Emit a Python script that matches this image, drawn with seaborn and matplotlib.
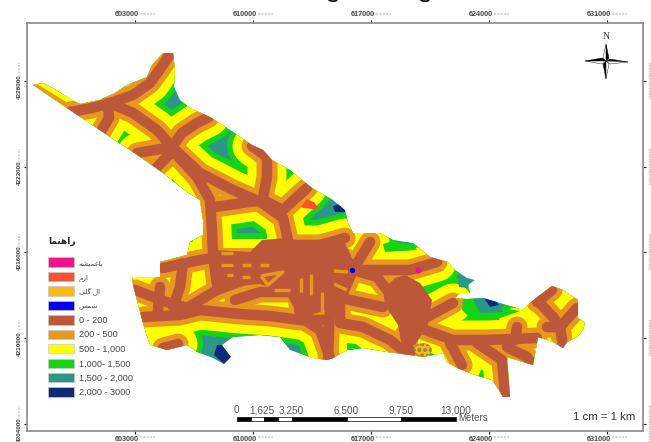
import matplotlib
matplotlib.use("Agg")
import matplotlib.pyplot as plt
import pandas as pd
import seaborn as sns
from matplotlib.patches import Polygon, Ellipse, Patch
from matplotlib.transforms import ScaledTranslation

east_ticks = [134.5, 252.5, 370.7, 488.7, 607]
east_labels = ['603000', '610000', '617000', '624000', '631000']
north_ticks = [81, 167, 252.3, 338, 424]
north_labels = ['4228000', '4222000', '4216000', '4210000', '4204000']

boundary = [(33, 85), (43, 83), (53, 88), (72, 100), (80, 104), (100, 100), (115, 93), (127, 85), (147, 77),
            (152, 65), (163, 53), (173, 53), (175, 70), (174, 87), (180, 100), (190, 108), (210, 117), (233, 132),
            (252, 145), (263, 150), (272, 160), (290, 170), (312, 188), (333, 200), (345, 210), (348, 223),
            (353, 233), (380, 233), (393, 240), (413, 243), (430, 257), (448, 262), (455, 270), (467, 278),
            (475, 280), (468, 285), (470, 293), (460, 293), (455, 298), (467, 299), (483, 298), (500, 303),
            (523, 310), (530, 303), (540, 295), (552, 286), (563, 290), (578, 300), (578, 318), (585, 323),
            (583, 330), (577, 337), (567, 342), (563, 348), (553, 342), (538, 337), (533, 365), (507, 357),
            (510, 397), (503, 397), (500, 392), (492, 380), (475, 375), (457, 368), (447, 362), (443, 353),
            (423, 357), (410, 355), (387, 352), (363, 348), (347, 350), (333, 358), (327, 360), (313, 358),
            (290, 350), (280, 337), (260, 335), (233, 337), (222, 345), (231, 357), (224, 364), (213, 358),
            (197, 352), (187, 345), (167, 350), (150, 345), (146, 333), (143, 323), (133, 285), (132, 277),
            (160, 277), (160, 262), (187, 255), (190, 242), (203, 235), (203, 220), (200, 200), (187, 192),
            (163, 173), (133, 152), (110, 137), (70, 110)]

road_01 = [(70, 112), (92, 108), (107, 104), (133, 95), (150, 83), (163, 65), (170, 54)]
road_02 = [(108, 103), (109, 118), (100, 133)]
road_03 = [(112, 104), (133, 113), (157, 130), (172, 147)]
road_04 = [(172, 147), (182, 133), (197, 123), (209, 117)]
road_05 = [(172, 147), (137, 153)]
road_06 = [(172, 152), (157, 167)]
road_07 = [(172, 150), (197, 177), (210, 200), (212, 230), (213, 255), (217, 285)]
road_08 = [(172, 147), (200, 173), (233, 190), (263, 203)]
road_09 = [(252, 146), (267, 157), (267, 177), (262, 203), (283, 218), (288, 240)]
road_10 = [(215, 207), (263, 200), (283, 210), (307, 188)]
road_11 = [(30, 92), (72, 118)]
road_12 = [(213, 258), (345, 258)]
road_13 = [(235, 300), (260, 292), (295, 292)]
road_14 = [(135, 290), (167, 302), (187, 308), (217, 290), (250, 278), (280, 273), (297, 267)]
road_15 = [(183, 263), (180, 287), (173, 307)]
road_16 = [(160, 287), (158, 310)]
road_17 = [(143, 317), (180, 315), (200, 310), (240, 314), (270, 316), (300, 320), (323, 320)]
road_18 = [(297, 280), (300, 317), (320, 330), (330, 358)]
road_22 = [(307, 290), (307, 318)]
road_25 = [(285, 245), (320, 245), (345, 238)]
road_26 = [(370, 242), (353, 270), (340, 300)]
road_27 = [(320, 247), (353, 270), (377, 277), (387, 290)]
road_28 = [(353, 270), (410, 270), (437, 262)]
road_30 = [(405, 335), (410, 353)]
road_34 = [(427, 317), (453, 303)]
road_35 = [(425, 330), (453, 340), (487, 340), (537, 338)]
road_36 = [(517, 327), (515, 340)]
road_37 = [(450, 343), (462, 365)]
road_38 = [(477, 343), (502, 360), (505, 395)]
road_39 = [(507, 347), (527, 357), (532, 364)]
road_40 = [(328, 358), (330, 307), (320, 285)]
road_41 = [(340, 303), (340, 323), (363, 327), (390, 340), (405, 352)]
road_42 = [(336, 297), (383, 307)]
road_43 = [(537, 300), (553, 317), (560, 327), (577, 308)]
road_44 = [(552, 290), (537, 302)]
road_45 = [(547, 327), (560, 327), (563, 346)]
road_46 = [(163, 268), (200, 260), (213, 258)]
road_47 = [(163, 348), (178, 344)]
all_roads = [road_01, road_02, road_03, road_04, road_05, road_06, road_07, road_08, road_09, road_10,
             road_11, road_12, road_13, road_14, road_15, road_16, road_17, road_18, road_22, road_25, road_26,
             road_27, road_28, road_30, road_34, road_35, road_36, road_37, road_38, road_39, road_40,
             road_41, road_42, road_43, road_44, road_45, road_46, road_47]

# built-up blocks that read as solid 0-200
core_west = [(212, 250), (250, 252), (262, 240), (285, 238), (313, 243), (345, 243), (352, 258), (360, 270),
             (345, 290), (345, 305), (320, 312), (300, 318), (285, 292), (260, 284), (215, 288)]
core_east = [(383, 290), (395, 278), (405, 275), (420, 283), (432, 300), (428, 325), (415, 345), (402, 345),
             (398, 325), (385, 305)]

# small gaps inside the blocks (200 - 500)
gap_01 = [(221, 253), (233, 253)]
gap_02 = [(221, 265), (233, 265)]
gap_03 = [(242, 265), (251, 265)]
gap_04 = [(260, 265), (269, 265)]
gap_05 = [(227, 275), (233, 275)]
gap_06 = [(242, 277), (250, 277)]
gap_07 = [(261, 276), (283, 272), (268, 285), (261, 276)]
gap_08 = [(274, 290), (290, 290)]
gap_09 = [(301, 278), (301, 292)]
gap_10 = [(311, 274), (311, 295)]
gap_11 = [(334, 271), (348, 272)]
gap_12 = [(334, 284), (347, 290)]
gap_13 = [(322, 292), (322, 312)]
all_gaps = [gap_01, gap_02, gap_03, gap_04, gap_05, gap_06, gap_07, gap_08, gap_09, gap_10, gap_11, gap_12, gap_13]

# far-from-road pockets
navy_north = [(333, 206), (340, 204), (346, 212), (335, 212)]
navy_east = [(484, 298), (492, 297), (499, 305), (490, 307)]
navy_south = [(217, 345), (222, 345), (231, 357), (224, 364), (214, 355)]
teal_east = [(458, 276), (470, 279), (468, 288), (459, 287)]
teal_lobe = [(473, 299), (484, 298), (500, 303), (503, 312), (480, 313)]
green_lobe = [(463, 299), (473, 299), (503, 308), (520, 311), (500, 318), (470, 318), (462, 310)]
green_north = [(383, 244), (393, 241), (413, 245), (417, 250), (385, 252)]
green_south = [(347, 343), (356, 344), (362, 349), (347, 350)]

zone_labels = ['2,000 - 3000', '1,500 - 2,000', '1,000- 1,500', '500 - 1,000', '200 - 500', '0 - 200']
zone_colors = ['#0F2A78', '#2E9688', '#14D414', '#FFFF00', '#E8981E', '#BC573A']
zone_widths = [None, None, 50, 39, 21, 10.5]  # buffer width on the sheet, px

place_labels = ['\ufeea\ufeb8\ufef4\ufee4\ufecf\ufe8e\ufe91', '\ufee1\ufead\ufe8d',
                '\ufef0\ufee0\ufb94 \ufedd\ufe8d', '\ufeb2\ufee4\ufeb7']
place_colors = ['#F0148C', '#FA5030', '#FBB916', '#0000F0']

scale_edges = [236.5, 250.5, 264, 278, 291.5, 346.5, 401, 456]
scale_labels = ['0', '1,625', '3,250', '6,500', '9,750', '13,000']
scale_label_x = [236, 262, 291, 346, 401, 456]

road_rows = [(i, x, y) for i, road in enumerate(all_roads) for x, y in road]
road_df = pd.DataFrame(road_rows, columns=['road', 'x', 'y'])
gap_rows = [(i, x, y) for i, gap in enumerate(all_gaps) for x, y in gap]
gap_df = pd.DataFrame(gap_rows, columns=['gap', 'x', 'y'])

sns.set_theme(style='white')
plt.rcParams['font.family'] = ['Liberation Sans', 'DejaVu Sans']

fig = plt.figure(figsize=(6.51, 4.42), dpi=100)
ax = fig.add_axes([27 / 651, 11 / 442, 616 / 651, 408 / 442])
ax.set_xlim(27, 643)
ax.set_ylim(431, 23)

outline = Polygon(boundary, closed=True, facecolor=zone_colors[1], edgecolor='none', transform=ax.transData)
ax.add_patch(outline)

for color, width in zip(zone_colors[2:], zone_widths[2:]):
    n_before = len(ax.lines)
    sns.lineplot(data=road_df, x='x', y='y', units='road', estimator=None, sort=False, color=color,
                 linewidth=width * 0.72, solid_capstyle='round', solid_joinstyle='round', legend=False, ax=ax)
    for line in ax.lines[n_before:]:
        line.set_clip_path(outline)

for block, color in [(green_lobe, zone_colors[2]), (green_north, zone_colors[2]), (green_south, zone_colors[2]),
                     (teal_lobe, zone_colors[1]), (teal_east, zone_colors[1]), (navy_east, zone_colors[0]),
                     (navy_north, zone_colors[0]), (navy_south, zone_colors[0]),
                     (core_west, zone_colors[-1]), (core_east, zone_colors[-1])]:
    pocket = Polygon(block, closed=True, facecolor=color, edgecolor='none', zorder=2.5)
    ax.add_patch(pocket)
    pocket.set_clip_path(outline)
sns.lineplot(data=gap_df, x='x', y='y', units='gap', estimator=None, sort=False, color=zone_colors[-2],
             linewidth=2.4, solid_capstyle='butt', legend=False, zorder=2.6, ax=ax)

# named places
ax.add_patch(Polygon([(302, 207), (307, 200), (314, 203), (318, 209)], closed=True, color=place_colors[1], zorder=3))
ax.scatter([352], [270], s=8, color=place_colors[3], zorder=5)
ax.scatter([418], [270], s=12, color=place_colors[0], zorder=5)
ax.add_patch(Ellipse((423, 350), 17, 13, facecolor=place_colors[2], edgecolor='#9A8A40', hatch='ooo', lw=0.4, zorder=5))

ax.set_xlabel('')
ax.set_ylabel('')
for side in ax.spines.values():
    side.set_color('#8A8A8A')
    side.set_linewidth(1.2)

ax.set_xticks(east_ticks)
ax.set_xticklabels(east_labels, fontsize=5.2, fontweight='bold', color='#444444')
ax.set_yticks(north_ticks)
ax.set_yticklabels(north_labels, fontsize=4.6, fontweight='bold', color='#444444', rotation=90, va='center')
ax.tick_params(axis='both', length=2.5, width=0.8, color='#222222', pad=1, left=True, bottom=True, top=True, right=True)
ax.tick_params(axis='x', labeltop=True, labelbottom=True)
for lab in ax.get_xticklabels():
    lab.set_transform(lab.get_transform() + ScaledTranslation(-0.08, 0, fig.dpi_scale_trans))
for lab in ax.get_yticklabels():
    lab.set_transform(lab.get_transform() + ScaledTranslation(0, -0.055, fig.dpi_scale_trans))

# faint trailing part of the grid labels
for x in east_ticks:
    for y in [14.5, 437]:
        ax.plot([x + 5, x + 20], [y, y], color='#D8D8D8', lw=1.6, ls=(0, (1, 0.5)), clip_on=False)
for y in north_ticks:
    ax.plot([19, 19], [y - 4, y - 18], color='#D8D8D8', lw=1.6, ls=(0, (1, 0.5)), clip_on=False)
    ax.plot([650, 650], [y - 18, y + 18], color='#BBBBBB', lw=1.2, ls=(0, (1, 0.5)), clip_on=False)

# legend
handles = [Patch(facecolor=c, edgecolor='#C8C8C8', lw=0.5) for c in place_colors]
handles += [Patch(facecolor=c, edgecolor='#C8C8C8', lw=0.5) for c in zone_colors[::-1]]
labels = place_labels + zone_labels[::-1]
leg = ax.legend(handles, labels, loc='upper left', bbox_to_anchor=(48, 237), bbox_transform=ax.transData,
                frameon=False, fontsize=6.6, title='\ufe8e\ufee4\ufee8\ufeeb\ufe8d\ufead', borderpad=0, borderaxespad=0,
                handlelength=2.8, handleheight=1.2, labelspacing=0.51, handletextpad=0.55, alignment='left',
                labelcolor='#444444')
leg.get_title().set_fontsize(6.5)
leg.get_title().set_fontweight('bold')
leg.get_title().set_color('#222222')
leg._legend_box.sep = 8
for txt in leg.get_texts()[:4]:
    txt.set_fontsize(5.2)

# scale bar
for i in range(len(scale_edges) - 1):
    fill = 'black' if i % 2 == 0 else 'white'
    ax.broken_barh([(scale_edges[i], scale_edges[i + 1] - scale_edges[i])], (416.5, 4.5),
                   facecolor=fill, edgecolor='black', lw=0.5)
for x, s in zip(scale_label_x, scale_labels):
    ax.text(x, 410, s, ha='center', va='center', fontsize=7.2, color='#555555')
ax.text(458, 418, 'Meters', ha='left', va='center', fontsize=7, color='#555555')
ax.text(604, 417, '1 cm = 1 km', ha='center', va='center', fontsize=8.2, color='#333333', fontweight='medium')

# north arrow
ax.text(606, 37, 'N', ha='center', va='center', fontsize=7, family='Liberation Serif', color='#333333')
star_dark = [[(606, 44), (609, 58), (606, 61)], [(628, 62), (610, 59), (606, 61)],
             [(606, 79), (603, 64), (606, 61)], [(585, 61), (602, 58), (606, 61)]]
star_light = [[(606, 44), (603, 58), (606, 61)], [(628, 62), (610, 64), (606, 61)],
              [(606, 79), (609, 64), (606, 61)], [(585, 61), (602, 64), (606, 61)]]
for tri in star_dark:
    ax.add_patch(Polygon(tri, closed=True, facecolor='black', edgecolor='black', lw=0.3))
for tri in star_light:
    ax.add_patch(Polygon(tri, closed=True, facecolor='white', edgecolor='black', lw=0.3))

# cropped line of the page above the figure
fig.text(0.58, 1.02, '\ufec9  \ufeef  \ufb92\ufeef  \ufec9', ha='center', va='center', fontsize=14, color='black')

fig.savefig('out.png', dpi=100)
